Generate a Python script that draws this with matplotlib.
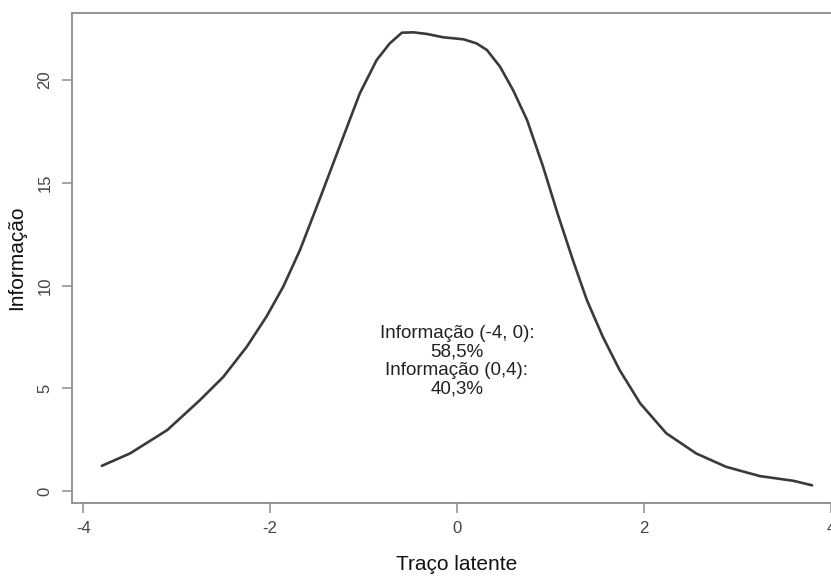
import matplotlib
matplotlib.use('Agg')
import matplotlib.pyplot as plt

plt.rcParams['font.family'] = ['Liberation Sans', 'DejaVu Sans']

# test information curve
theta = [-3.80, -3.50, -3.10, -2.75, -2.50, -2.25, -2.04, -1.86, -1.68, -1.47,
         -1.36, -1.22, -1.04, -0.86, -0.72, -0.59, -0.47, -0.32, -0.15, 0.07,
         0.21, 0.32, 0.46, 0.60, 0.75, 0.92, 1.08, 1.24, 1.39, 1.56,
         1.74, 1.96, 2.24, 2.56, 2.88, 3.24, 3.60, 3.80]
info = [1.23, 1.83, 2.97, 4.43, 5.56, 7.02, 8.48, 9.94, 11.73, 14.20,
        15.52, 17.20, 19.35, 20.97, 21.78, 22.30, 22.32, 22.24, 22.08, 21.98,
        21.78, 21.46, 20.65, 19.51, 18.05, 15.80, 13.45, 11.24, 9.29, 7.51,
        5.89, 4.27, 2.81, 1.83, 1.18, 0.73, 0.50, 0.28]

x_ticks = [-4, -2, 0, 2, 4]
y_ticks = [0, 5, 10, 15, 20]
note = 'Informação (-4, 0):\n58,5%\nInformação (0,4):\n40,3%'

fig = plt.figure(figsize=(8.31, 5.76), dpi=100)
# the source image is cropped on the right, so the axes run past the edge
ax = fig.add_axes([72 / 831, 1 - 503 / 576, 770 / 831, 490 / 576])

ax.plot(theta, info, color='#3a3a3a', linewidth=1.9, solid_capstyle='round')

ax.set_xlim(-4.12, 4.12)
ax.set_ylim(-0.58, 23.26)
ax.set_xticks(x_ticks)
ax.set_yticks(y_ticks)
ax.set_xticklabels([str(t) for t in x_ticks])
ax.set_yticklabels([str(t) for t in y_ticks], rotation=90, va='center')

for side in ax.spines.values():
    side.set_color('#8c8c8c')
    side.set_linewidth(1.3)
ax.tick_params(length=7, width=1.1, color='#8c8c8c', labelcolor='#444444',
               labelsize=12)
ax.tick_params(axis='x', pad=6)
ax.tick_params(axis='y', pad=7)

ax.text(0, 6.33, note, ha='center', va='center', fontsize=13.5,
        linespacing=1.12, color='#222222')

ax.set_xlabel('Traço latente', fontsize=15, color='#111111', labelpad=14)
ax.set_ylabel('Informação', fontsize=15, color='#111111', labelpad=8)

fig.savefig('out.png', dpi=100)
